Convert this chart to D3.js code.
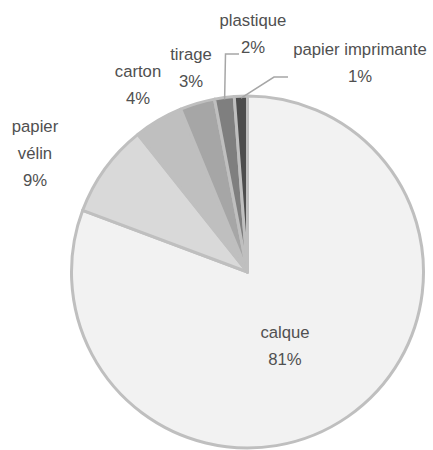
<!DOCTYPE html>
<html>
<head>
<meta charset="utf-8">
<script src="https://cdn.jsdelivr.net/npm/d3@7"></script>
<style>
html,body{margin:0;padding:0;background:#fff;}
svg{display:block;}
text{font-family:"Liberation Sans",Arial,sans-serif;font-size:16.7px;fill:#505050;}
</style>
</head>
<body>
<script>
const categories = ["calque", "papier vélin", "carton", "tirage", "plastique", "papier imprimante"];
const values = [80.7, 8.6, 4.5, 3.2, 1.8, 1.2];
const percentLabels = ["81%", "9%", "4%", "3%", "2%", "1%"];
const sliceColors = ["#f2f2f2", "#d9d9d9", "#bfbfbf", "#a6a6a6", "#7f7f7f", "#4d4d4d"];
// label lines (text split over lines) and label anchor positions
const labelLines = [["calque"], ["papier", "vélin"], ["carton"], ["tirage"], ["plastique"], ["papier imprimante"]];
const labelPos = [[285, 338], [35, 132], [138, 77], [191, 60], [253, 26], [360, 55]];

const W = 433, H = 450;
const cx = 247.5, cy = 272, R = 176;
const lineH = 27;

const svg = d3.select("body").append("svg").attr("width", W).attr("height", H);

const pie = d3.pie().sort(null).value(d => d);
const arcs = pie(values);
const arc = d3.arc().innerRadius(0).outerRadius(R);

const g = svg.append("g").attr("transform", `translate(${cx},${cy})`);
g.selectAll("path").data(arcs).enter().append("path")
  .attr("d", arc)
  .attr("fill", (d, i) => sliceColors[i])
  .attr("stroke", "#bfbfbf")
  .attr("stroke-width", 3)
  .attr("stroke-linejoin", "round");

// leader lines for small slices
const leaderArc = d3.arc().innerRadius(R - 2).outerRadius(R - 2);
function leader(i, pts) {
  const c = leaderArc.centroid(arcs[i]);
  const line = d3.line();
  svg.append("path")
    .attr("d", line([[cx + c[0], cy + c[1]], ...pts]))
    .attr("fill", "none")
    .attr("stroke", "#a6a6a6")
    .attr("stroke-width", 1.5);
}
leader(4, [[225.5, 54], [239, 54]]);
leader(5, [[274, 77], [288, 77]]);

// labels
categories.forEach((c, i) => {
  const [x, y] = labelPos[i];
  const lines = labelLines[i].concat([percentLabels[i]]);
  const t = svg.append("text").attr("text-anchor", "middle");
  lines.forEach((s, k) => {
    t.append("tspan").attr("x", x).attr("y", y + k * lineH).text(s);
  });
});
</script>
</body>
</html>
